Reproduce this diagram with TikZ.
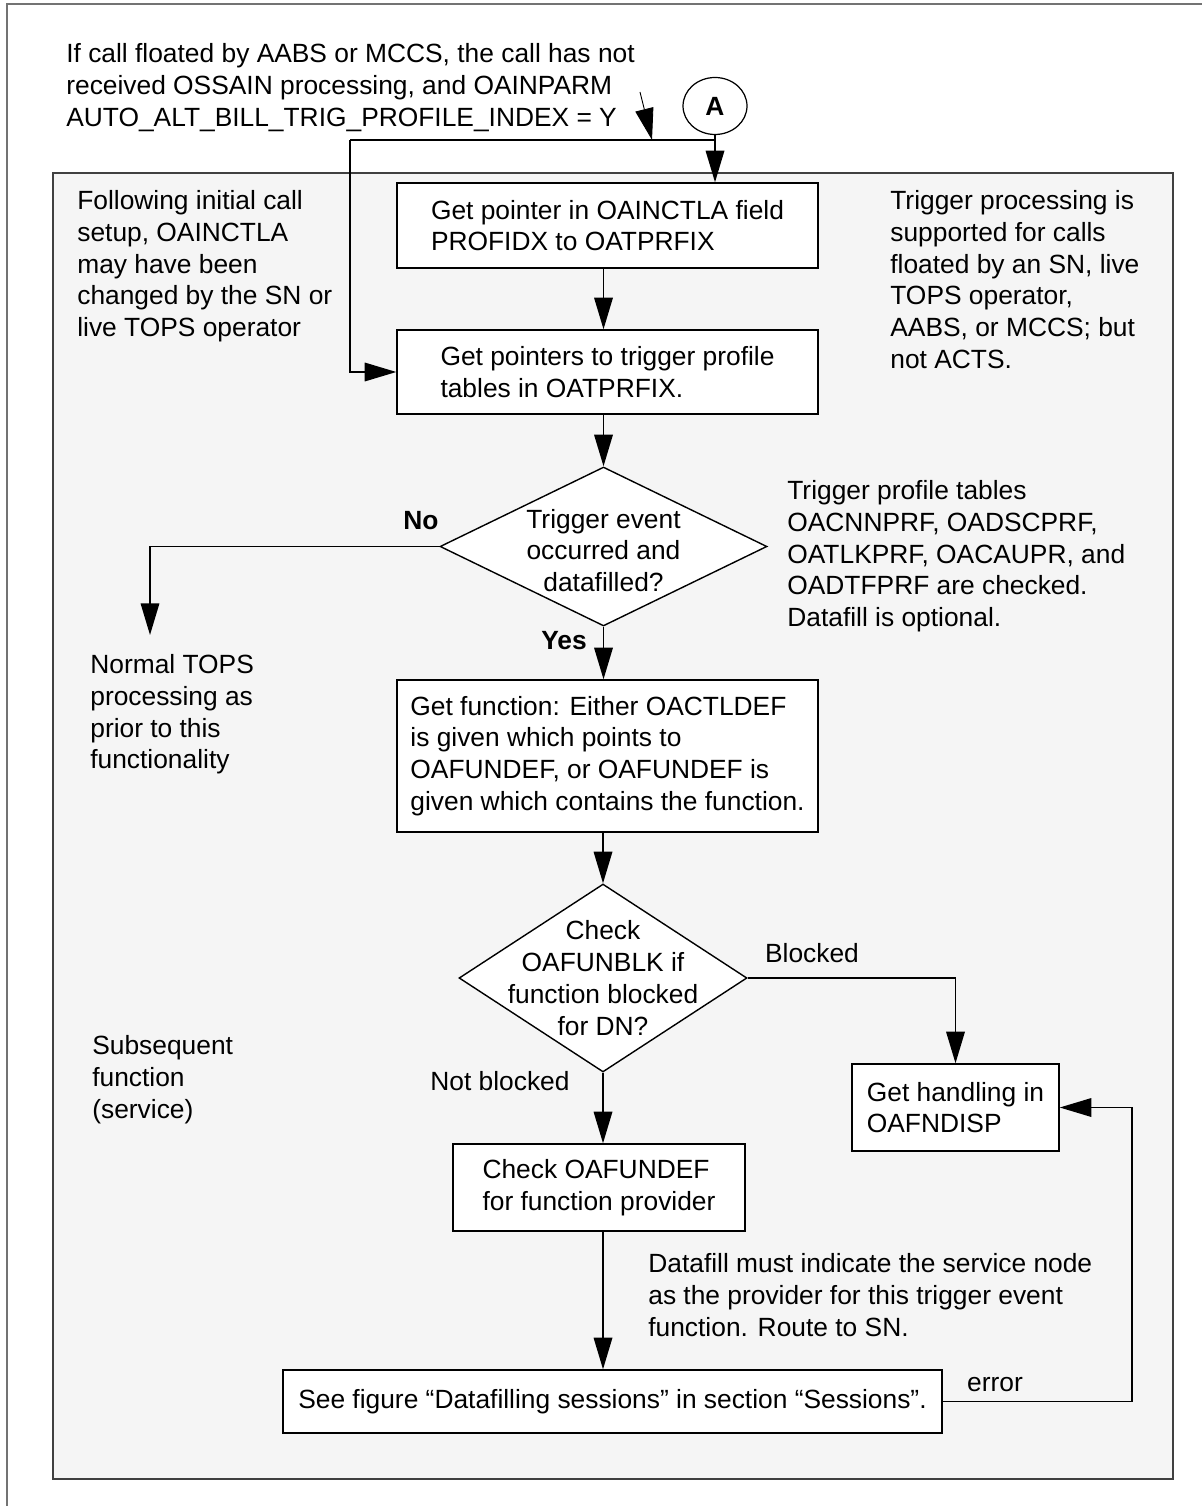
\documentclass[tikz,border=0pt]{standalone}
\usepackage{fontspec}
\setmainfont{Liberation Sans}
\usetikzlibrary{arrows.meta,shapes.geometric}
\definecolor{panelgray}{HTML}{F5F5F5}
\newcommand{\figfont}{\fontsize{15}{18.1}\selectfont}
\tikzset{
  procbox/.style={draw, line width=0.8pt, fill=white, align=left, inner sep=0pt},
  decision/.style={diamond, draw, fill=white, line width=0.8pt, inner sep=0pt},
  notetext/.style={align=left, anchor=north west, inner sep=0pt},
  flow/.style={->, line width=1.1pt}
}

\begin{document}
\begin{tikzpicture}[x=0.02cm,y=-0.02cm,>={Triangle[length=18pt,width=10.5pt]},font=\figfont]
		\useasboundingbox (0,0) rectangle (1202,1506);
%		moldura e painel
		\draw[black!55,line width=1.2pt] (7,1506) -- (7,4) -- (1202,4);
		\draw[fill=panelgray,draw=black!75,line width=0.7pt] (53,173) rectangle (1173,1479);
		
%		entrada A
		\node[ellipse,draw,line width=0.7pt,minimum width=1.28cm,minimum height=1.14cm,inner sep=0pt,font=\figfont\bfseries] (a) at (715,106) {A};
		\node[notetext] (cond) at (66,43) {If call floated by AABS or MCCS, the call has not\\received OSSAIN processing, and OAINPARM\\AUTO\_ALT\_BILL\_TRIG\_PROFILE\_INDEX = Y};
		
%		caixas
		\def\bw{8.42cm}
		\node[procbox,minimum width=\bw,minimum height=1.70cm] (b1) at (607.5,225.5) {Get pointer in OAINCTLA field\\PROFIDX to OATPRFIX};
		\node[procbox,minimum width=\bw,minimum height=1.68cm] (b2) at (607.5,372) {Get pointers to trigger profile\\tables in OATPRFIX.};
		\node[procbox,minimum width=\bw,minimum height=3.04cm] (b3) at (607.5,756) {Get function: Either OACTLDEF\\is given which points to\\OAFUNDEF, or OAFUNDEF is\\given which contains the function.};
		\node[procbox,minimum width=5.84cm,minimum height=1.74cm] (b4) at (599,1187.5) {Check OAFUNDEF\\for function provider};
		\node[procbox,minimum width=4.14cm,minimum height=1.74cm] (b5) at (955.5,1107.5) {Get handling in\\OAFNDISP};
		\node[procbox,minimum width=13.18cm,minimum height=1.26cm] (b6) at (612.5,1401.5) {See figure “Datafilling sessions” in section “Sessions”.};
		
%		losangos
		\node[decision,minimum width=6.54cm,minimum height=3.18cm] (d1) at (603.5,546.5) {};
		\node[align=center] (d1txt) at (603.5,550.5) {Trigger event\\occurred and\\datafilled?};
		\node[decision,minimum width=5.76cm,minimum height=3.76cm] (d2) at (603,978) {};
		\node[align=center] (d2txt) at (d2) {Check\\OAFUNBLK if\\function blocked\\for DN?};
		
%		notas
		\node[notetext] (setup) at (77,190) {Following initial call\\setup, OAINCTLA\\may have been\\changed by the SN or\\live TOPS operator};
		\node[notetext] (support) at (890,190) {Trigger processing is\\supported for calls\\floated by an SN, live\\TOPS operator,\\AABS, or MCCS; but\\not ACTS.};
		\node[notetext] (tables) at (787,480) {Trigger profile tables\\OACNNPRF, OADSCPRF,\\OATLKPRF, OACAUPR, and\\OADTFPRF are checked.\\Datafill is optional.};
		\node[notetext] (normal) at (90,654) {Normal TOPS\\processing as\\prior to this\\functionality};
		\node[notetext] (subseq) at (92,1035) {Subsequent\\function\\(service)};
		\node[notetext] (route) at (648,1253) {Datafill must indicate the service node\\as the provider for this trigger event\\function. Route to SN.};
		
%		rotulos
		\node[font=\figfont\bfseries] (nolbl) at (421,521) {No};
		\node[font=\figfont\bfseries] (yeslbl) at (564,641) {Yes};
		\node (blklbl) at (812,953) {Blocked};
		\node (notblklbl) at (500,1081) {Not blocked};
		\node (errlbl) at (995,1385) {error};
		
%		ligacoes
		\coordinate (split) at (350,140);
		\coordinate (ptrstart) at (640,92);
		\coordinate (ptrend) at (652,140);
		\coordinate (nodrop) at (150,635);
		\coordinate (errx) at (1132,1401);
		
		\draw[flow] (a.south) -- (a.south |- b1.north);
		\draw[line width=1.1pt] (a.south |- split) -- (split);
		\draw[flow] (split) |- (b2.west);
		\draw[->,line width=0.5pt] (ptrstart) -- (ptrend);
		
		\draw[flow] (b1.south -| d1.north) -- (b2.north -| d1.north);
		\draw[flow] (b2.south -| d1.north) -- (d1.north);
		\draw[flow] (d1.west) -| (nodrop);
		\draw[flow] (d1.south) -- (d1.south |- b3.north);
		\draw[flow] (b3.south -| d2.north) -- (d2.north);
		\draw[flow] (d2.east) -| (b5.north);
		\draw[flow] (d2.south) -- (d2.south |- b4.north);
		\draw[flow] (d2.south |- b4.south) -- (d2.south |- b6.north);
		\draw[flow] (b6.east) -| (errx |- b5.east) -- (b5.east);
		\end{tikzpicture}
\end{document}
